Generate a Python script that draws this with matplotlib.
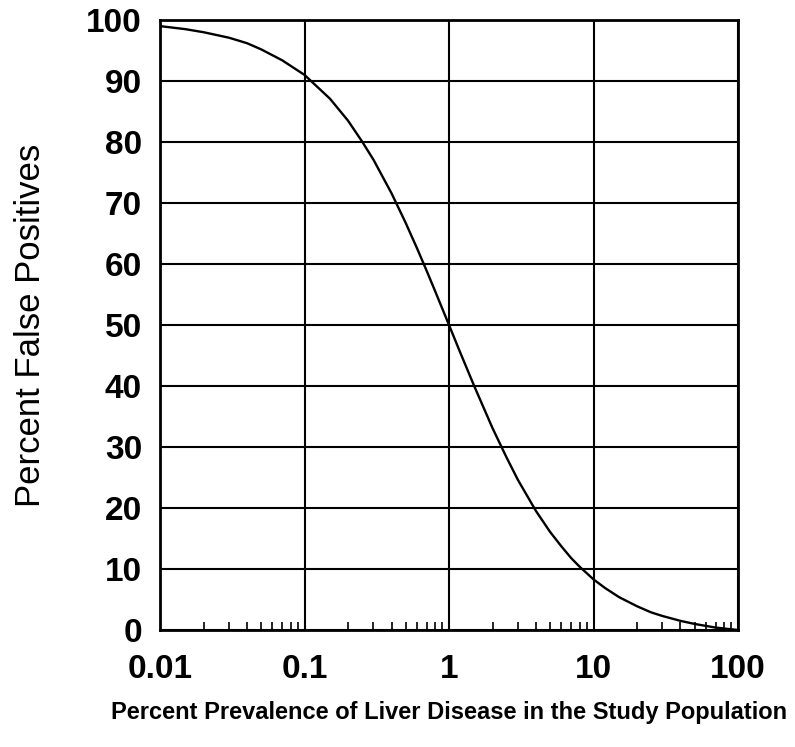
import matplotlib
matplotlib.use("Agg")
import matplotlib.pyplot as plt
from matplotlib.ticker import LogLocator, NullFormatter, FixedLocator, FixedFormatter

plt.rcParams['font.family'] = ['Liberation Sans', 'DejaVu Sans']

# values
prevalence = [0.01, 0.015, 0.02, 0.03, 0.04, 0.05, 0.07, 0.1, 0.15, 0.2, 0.25,
              0.3, 0.4, 0.5, 0.6, 0.7, 0.8, 1, 1.2, 1.5, 2, 2.5, 3, 4, 5, 6,
              7, 8, 10, 12, 15, 20, 25, 30, 40, 50, 70, 100]
false_pos = [99.0, 98.5, 98.0, 97.1, 96.2, 95.2, 93.4, 91.0, 87.1, 83.5, 80.1,
             77.1, 71.6, 66.8, 62.6, 58.9, 55.6, 50.0, 45.4, 39.9, 33.1, 28.3,
             24.6, 19.5, 16.1, 13.7, 11.8, 10.4, 8.3, 6.9, 5.4, 3.9, 2.9, 2.3,
             1.5, 1.0, 0.4, 0.0]

x_ticks = [0.01, 0.1, 1, 10, 100]
x_labels = ["0.01", "0.1", "1", "10", "100"]
y_ticks = list(range(0, 101, 10))

fig = plt.figure(figsize=(7.95, 7.47), dpi=100)
ax = fig.add_axes([0.2013, 0.1566, 0.7270, 0.8166])

ax.plot(prevalence, false_pos, color='black', lw=1.7, zorder=3)

ax.set_xscale('log')
ax.set_xlim(0.01, 100)
ax.set_ylim(0, 100)

ax.xaxis.set_major_locator(FixedLocator(x_ticks))
ax.xaxis.set_major_formatter(FixedFormatter(x_labels))
ax.xaxis.set_minor_locator(LogLocator(base=10, subs=range(2, 10)))
ax.xaxis.set_minor_formatter(NullFormatter())
ax.set_yticks(y_ticks)

ax.grid(True, which='major', color='black', lw=1.5)
ax.tick_params(axis='both', which='major', length=0, labelsize=24)
ax.tick_params(axis='y', which='major', pad=13)
ax.tick_params(axis='x', which='major', pad=17)
for lab in ax.get_xticklabels() + ax.get_yticklabels():
    lab.set_fontweight('bold')
ax.tick_params(axis='x', which='minor', direction='in', length=6, width=1.2, top=False)
for s in ax.spines.values():
    s.set_linewidth(2)

ax.set_ylabel("Percent False Positives", fontsize=25, labelpad=28)
ax.set_xlabel("Percent Prevalence of Liver Disease in the Study Population",
              fontsize=17, fontweight='bold', labelpad=12)

fig.savefig("out.png", dpi=100)
